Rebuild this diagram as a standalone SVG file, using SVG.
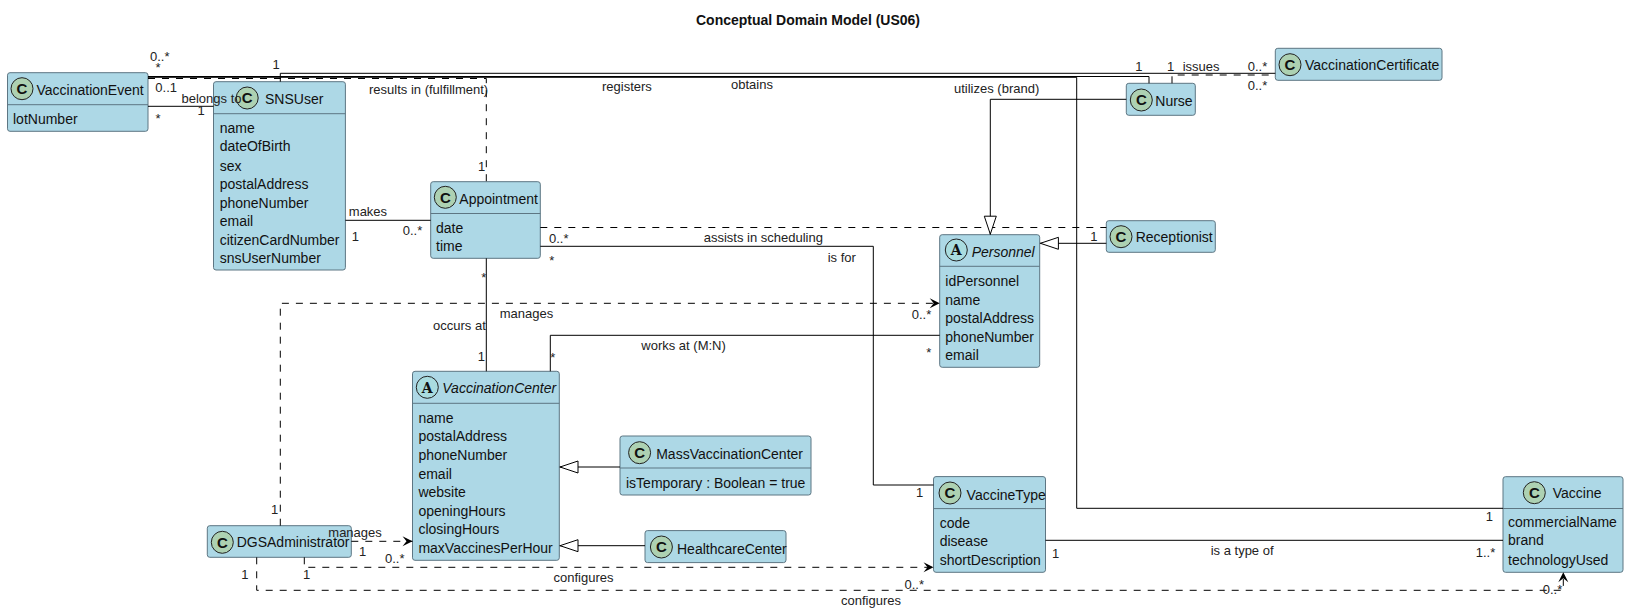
<svg xmlns="http://www.w3.org/2000/svg" width="1628" height="615" viewBox="0 0 1628 615">
<style>
text{font-family:"Liberation Sans",Arial,sans-serif;fill:#111}
.b{fill:#ADD8E6;stroke:#5d7683;stroke-width:1}
.d{stroke:#5d7683;stroke-width:1}
.c{fill:#ADD1B2;stroke:#222;stroke-width:1}
.a{fill:#A9DCDF;stroke:#222;stroke-width:1}
.g{font-size:15px;font-weight:700;text-anchor:middle}
.ga{font-family:"DejaVu Serif",serif;font-size:14px;font-weight:700;text-anchor:middle}
.n,.t{font-size:14px}
.i{font-size:14px;font-style:italic}
.l{font-size:13px;fill:#222}
.s,.h{fill:none;stroke:#000;stroke-width:1}
.h{stroke-dasharray:7 7}
.ar{marker-end:url(#open)}
.gn{marker-end:url(#gen)}
</style>
<defs>
<marker id="open" markerUnits="userSpaceOnUse" markerWidth="14" markerHeight="14" refX="11" refY="6" orient="auto"><path d="M1,1 L11,6 L1,11 L5,6 Z" fill="#000"/></marker>
<marker id="gen" markerUnits="userSpaceOnUse" markerWidth="22" markerHeight="16" refX="19.5" refY="8" orient="auto"><path d="M1,2 L19,8 L1,14 Z" fill="#fff" stroke="#000"/></marker>
</defs>
<text x="808" y="25" font-size="14" font-weight="700" text-anchor="middle">Conceptual Domain Model (US06)</text>
<g id="VaccinationEvent"><rect class="b" x="7.5" y="72.7" width="140.5" height="58.6" rx="2.5"/><line class="d" x1="7.5" x2="148" y1="104.7" y2="104.7"/><circle class="c" cx="22" cy="88.7" r="11"/><text class="g" x="22" y="94">C</text><text class="n" x="36.5" y="95">VaccinationEvent</text><text class="t" x="13" y="124">lotNumber</text></g>
<g id="SNSUser"><rect class="b" x="213.5" y="81.7" width="131.9" height="188.3" rx="2.5"/><line class="d" x1="213.5" x2="345.4" y1="113.7" y2="113.7"/><circle class="c" cx="247.2" cy="98" r="11"/><text class="g" x="247.2" y="103.3">C</text><text class="n" x="265" y="104">SNSUser</text><text class="t" x="219.7" y="132.7">name</text><text class="t" x="219.7" y="151.3">dateOfBirth</text><text class="t" x="219.7" y="170.5">sex</text><text class="t" x="219.7" y="189">postalAddress</text><text class="t" x="219.7" y="207.5">phoneNumber</text><text class="t" x="219.7" y="225.6">email</text><text class="t" x="219.7" y="245">citizenCardNumber</text><text class="t" x="219.7" y="263.2">snsUserNumber</text></g>
<g id="Appointment"><rect class="b" x="430.7" y="181.7" width="109.6" height="76.6" rx="2.5"/><line class="d" x1="430.7" x2="540.3" y1="213.5" y2="213.5"/><circle class="c" cx="445.3" cy="197.3" r="11"/><text class="g" x="445.3" y="202.6">C</text><text class="n" x="459.3" y="204">Appointment</text><text class="t" x="436" y="233">date</text><text class="t" x="436" y="251">time</text></g>
<g id="VaccinationCenter"><rect class="b" x="412.5" y="371.3" width="146.8" height="189" rx="2.5"/><line class="d" x1="412.5" x2="559.3" y1="403.3" y2="403.3"/><circle class="a" cx="427.3" cy="387.3" r="11"/><text class="ga" x="427.3" y="392.5">A</text><text class="i" x="442.3" y="392.8">VaccinationCenter</text><text class="t" x="418.4" y="423">name</text><text class="t" x="418.4" y="441.4">postalAddress</text><text class="t" x="418.4" y="460">phoneNumber</text><text class="t" x="418.4" y="478.6">email</text><text class="t" x="418.4" y="496.7">website</text><text class="t" x="418.4" y="515.6">openingHours</text><text class="t" x="418.4" y="534">closingHours</text><text class="t" x="418.4" y="552.7">maxVaccinesPerHour</text></g>
<g id="Personnel"><rect class="b" x="939.7" y="234.7" width="100" height="132.6" rx="2.5"/><line class="d" x1="939.7" x2="1039.7" y1="266.3" y2="266.3"/><circle class="a" cx="956.3" cy="250" r="11"/><text class="ga" x="956.3" y="255.2">A</text><text class="i" x="971.7" y="256.7">Personnel</text><text class="t" x="945.3" y="286">idPersonnel</text><text class="t" x="945.3" y="304.6">name</text><text class="t" x="945.3" y="323.2">postalAddress</text><text class="t" x="945.3" y="341.8">phoneNumber</text><text class="t" x="945.3" y="360">email</text></g>
<g id="Nurse"><rect class="b" x="1126.3" y="83.3" width="69" height="32" rx="2.5"/><circle class="c" cx="1141.3" cy="100" r="11"/><text class="g" x="1141.3" y="105.3">C</text><text class="n" x="1155.3" y="105.7">Nurse</text></g>
<g id="Receptionist"><rect class="b" x="1106.3" y="220.7" width="109" height="31.6" rx="2.5"/><circle class="c" cx="1121" cy="236.7" r="11"/><text class="g" x="1121" y="242">C</text><text class="n" x="1135.7" y="242.3">Receptionist</text></g>
<g id="VaccinationCertificate"><rect class="b" x="1275.3" y="48.3" width="166.7" height="32" rx="2.5"/><circle class="c" cx="1290" cy="64.7" r="11"/><text class="g" x="1290" y="70">C</text><text class="n" x="1305" y="70.3">VaccinationCertificate</text></g>
<g id="DGSAdministrator"><rect class="b" x="207.3" y="525.7" width="144" height="31.6" rx="2.5"/><circle class="c" cx="222.3" cy="542.3" r="11"/><text class="g" x="222.3" y="547.6">C</text><text class="n" x="236.7" y="547">DGSAdministrator</text></g>
<g id="MassVaccinationCenter"><rect class="b" x="620" y="436" width="191" height="59" rx="2.5"/><line class="d" x1="620" x2="811" y1="468" y2="468"/><circle class="c" cx="639.6" cy="452.7" r="11"/><text class="g" x="639.6" y="458">C</text><text class="n" x="656.2" y="459">MassVaccinationCenter</text><text class="t" x="626" y="488">isTemporary : Boolean = true</text></g>
<g id="HealthcareCenter"><rect class="b" x="645" y="530.6" width="141" height="32" rx="2.5"/><circle class="c" cx="661.4" cy="547" r="11"/><text class="g" x="661.4" y="552.3">C</text><text class="n" x="677" y="553.5">HealthcareCenter</text></g>
<g id="VaccineType"><rect class="b" x="933.5" y="476.6" width="112" height="95.7" rx="2.5"/><line class="d" x1="933.5" x2="1045.5" y1="508.6" y2="508.6"/><circle class="c" cx="950" cy="493" r="11"/><text class="g" x="950" y="498.3">C</text><text class="n" x="966.6" y="499.5">VaccineType</text><text class="t" x="939.7" y="527.5">code</text><text class="t" x="939.7" y="546">disease</text><text class="t" x="939.7" y="564.7">shortDescription</text></g>
<g id="Vaccine"><rect class="b" x="1503" y="476.7" width="120" height="95.6" rx="2.5"/><line class="d" x1="1503" x2="1623" y1="508.5" y2="508.5"/><circle class="c" cx="1534.3" cy="492.7" r="11"/><text class="g" x="1534.3" y="498">C</text><text class="n" x="1552.7" y="498.3">Vaccine</text><text class="t" x="1508" y="526.7">commercialName</text><text class="t" x="1508" y="545.3">brand</text><text class="t" x="1508" y="564.7">technologyUsed</text></g>
<g id="connectors">
<path class="s" d="M148,77.3 H1076.7 V508.3 H1503"/>
<path class="s" d="M148,76.5 H1149 V83.3"/>
<path class="h" d="M148,78.5 H486.3 V181.7"/>
<path class="s" d="M280.3,81.7 V73.3 H1275.3"/>
<path class="h" d="M1172,83.3 V75 H1275.3"/>
<path class="s" d="M148,106.3 H213.5"/>
<path class="s" d="M345.4,220.3 H430.7"/>
<path class="h" d="M540.3,227.5 H1106.3"/>
<path class="s" d="M540.3,246.3 H873.3 V485 H933.5"/>
<path class="s" d="M486.3,258.3 V371.3"/>
<path class="s" d="M550.3,371.3 V335.3 H939.7"/>
<path class="h ar" d="M280.3,525.7 V303.3 H939.7"/>
<path class="h ar" d="M351.3,541.3 H412.5"/>
<path class="h ar" d="M304.3,557.3 V567.3 H933.5"/>
<path class="h ar" d="M256.7,557.3 V590.3 H1563.3 V572.3"/>
<path class="s" d="M1045.5,540.3 H1503"/>
<path class="s gn" d="M1126.3,99.3 H990.3 V234.7"/>
<path class="s gn" d="M1106.3,243.3 H1039.9"/>
<path class="s gn" d="M620,467 H559.5"/>
<path class="s gn" d="M645,545.7 H559.5"/>
<text class="l" x="150" y="60.7">0..*</text><text class="l" x="155.6" y="71.5">*</text><text class="l" x="272.5" y="69.3">1</text>
<text class="l" x="155.3" y="92.3">0..1</text><text class="l" x="181.5" y="103.3">belongs to</text><text class="l" x="197.5" y="114.7">1</text><text class="l" x="155.6" y="122.5">*</text>
<text class="l" x="369" y="94">results in (fulfillment)</text><text class="l" x="478" y="171">1</text>
<text class="l" x="602" y="91">registers</text><text class="l" x="731" y="89">obtains</text><text class="l" x="954" y="93.4">utilizes (brand)</text>
<text class="l" x="1135.2" y="71.3">1</text><text class="l" x="1167" y="71.3">1</text><text class="l" x="1182.7" y="70.7">issues</text><text class="l" x="1247.7" y="71.3">0..*</text><text class="l" x="1247.7" y="90">0..*</text>
<text class="l" x="348.8" y="216">makes</text><text class="l" x="351.7" y="240.7">1</text><text class="l" x="402.7" y="234.7">0..*</text>
<text class="l" x="549" y="242.7">0..*</text><text class="l" x="703.7" y="241.7">assists in scheduling</text><text class="l" x="549.3" y="265">*</text>
<text class="l" x="827.7" y="262">is for</text><text class="l" x="1090.2" y="241">1</text>
<text class="l" x="481.3" y="281.5">*</text><text class="l" x="499.7" y="317.7">manages</text><text class="l" x="433" y="330">occurs at</text><text class="l" x="477.7" y="361">1</text>
<text class="l" x="550.3" y="361.5">*</text><text class="l" x="641.3" y="350">works at (M:N)</text><text class="l" x="911.7" y="319">0..*</text><text class="l" x="926.3" y="356.5">*</text>
<text class="l" x="916" y="496.5">1</text><text class="l" x="271" y="514.3">1</text><text class="l" x="328.3" y="537.3">manages</text><text class="l" x="359" y="556.3">1</text><text class="l" x="385" y="562.7">0..*</text>
<text class="l" x="241.3" y="579">1</text><text class="l" x="303" y="579">1</text><text class="l" x="553.5" y="582.3">configures</text><text class="l" x="904.5" y="589">0..*</text><text class="l" x="841" y="604.5">configures</text>
<text class="l" x="1052" y="557.5">1</text><text class="l" x="1210.7" y="554.5">is a type of</text><text class="l" x="1485.7" y="521">1</text><text class="l" x="1475.7" y="557">1..*</text><text class="l" x="1542.7" y="594">0..*</text>
</g>
</svg>
